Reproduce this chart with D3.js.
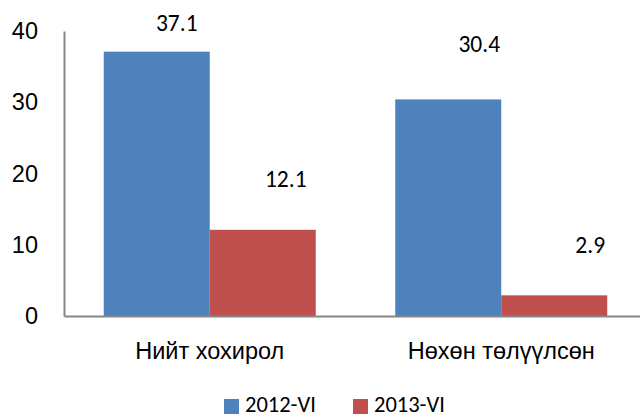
<!DOCTYPE html>
<html>
<head>
<meta charset="utf-8">
<script src="https://cdn.jsdelivr.net/npm/d3@7"></script>
<style>
  html, body { margin: 0; padding: 0; background: #fff; }
  svg { display: block; font-family: Carlito, "Liberation Sans", "Noto Sans", sans-serif; }
</style>
</head>
<body>
<script>
// Chart data
const categories = ["Нийт хохирол", "Нөхөн төлүүлсөн"];
const seriesNames = ["2012-VI", "2013-VI"];
const values2012 = [37.1, 30.4];
const values2013 = [12.1, 2.9];
const yTicks = [0, 10, 20, 30, 40];

// Excel kept its data labels in hand-placed spots; offsets from the bar top centre
const labelNudge = [[[20, -21], [23, -43]], [[31, -47], [36, -42]]];

const SVG_DIM = { W: 640, H: 417 };
const PLOT = { LEFT: 64, RIGHT: 647, TOP: 31, BOTTOM: 316 };
const COLORS = ["#4F81BD", "#C0504D"];
const AXIS_COLOR = "#868686";
const FONT_SIZE = 23.5;

const svg = d3.select("body")
  .append("svg")
  .attr("width", SVG_DIM.W)
  .attr("height", SVG_DIM.H);

const x0 = d3.scaleBand()
  .domain(categories)
  .range([PLOT.LEFT, PLOT.RIGHT])
  .paddingInner(0.2727)
  .paddingOuter(0.1364);

const x1 = d3.scaleBand()
  .domain(seriesNames)
  .range([0, x0.bandwidth()]);

const y = d3.scaleLinear()
  .domain([0, 40])
  .range([PLOT.BOTTOM, PLOT.TOP]);

// rows: one group per category
const rows = categories.map((c, i) => ({
  cat: c,
  vals: [values2012[i], values2013[i]]
}));

// y axis (only line + labels, no tick marks)
const yAxis = svg.append("g")
  .attr("transform", `translate(${PLOT.LEFT},0)`)
  .call(d3.axisLeft(y).tickValues(yTicks).tickSize(0).tickPadding(26).tickSizeOuter(0));
yAxis.select(".domain").attr("stroke", AXIS_COLOR).attr("stroke-width", 2);
yAxis.selectAll("text")
  .attr("font-size", FONT_SIZE)
  .attr("fill", "#000")
  .attr("font-family", null);

// bars
const groups = svg.selectAll("g.cat")
  .data(rows)
  .enter()
  .append("g")
  .attr("class", "cat")
  .attr("transform", (d) => `translate(${x0(d.cat)},0)`);

groups.selectAll("rect")
  .data((d) => d.vals.map((v, j) => ({ v, s: seriesNames[j], j })))
  .enter()
  .append("rect")
  .attr("x", (d) => x1(d.s))
  .attr("width", x1.bandwidth())
  .attr("y", (d) => y(d.v))
  .attr("height", (d) => y(0) - y(d.v))
  .attr("fill", (d) => COLORS[d.j]);

// data labels
groups.each(function (row, i) {
  d3.select(this).selectAll("text.val")
    .data(row.vals)
    .enter()
    .append("text")
    .attr("class", "val")
    .attr("x", (v, j) => x1(seriesNames[j]) + x1.bandwidth() / 2 + labelNudge[i][j][0])
    .attr("y", (v, j) => y(v) + labelNudge[i][j][1])
    .attr("text-anchor", "middle")
    .attr("font-size", FONT_SIZE)
    .text((v) => v.toFixed(1));
});

// x axis
const xAxis = svg.append("g")
  .attr("transform", `translate(0,${PLOT.BOTTOM})`)
  .call(d3.axisBottom(x0).tickSize(0).tickPadding(26).tickSizeOuter(0));
xAxis.select(".domain").attr("stroke", AXIS_COLOR).attr("stroke-width", 2);
xAxis.selectAll("text")
  .attr("font-size", FONT_SIZE)
  .attr("fill", "#000")
  .attr("font-family", null);

// legend
const legend = svg.append("g").attr("transform", "translate(224,399)");
const legendX = [0, 129];
const items = legend.selectAll("g")
  .data(seriesNames)
  .enter()
  .append("g")
  .attr("transform", (d, i) => `translate(${legendX[i]},0)`);
items.append("rect")
  .attr("width", 15)
  .attr("height", 15)
  .attr("fill", (d, i) => COLORS[i]);
items.append("text")
  .attr("x", 21)
  .attr("y", 13)
  .attr("font-size", 22.5)
  .text((d) => d);
</script>
</body>
</html>
